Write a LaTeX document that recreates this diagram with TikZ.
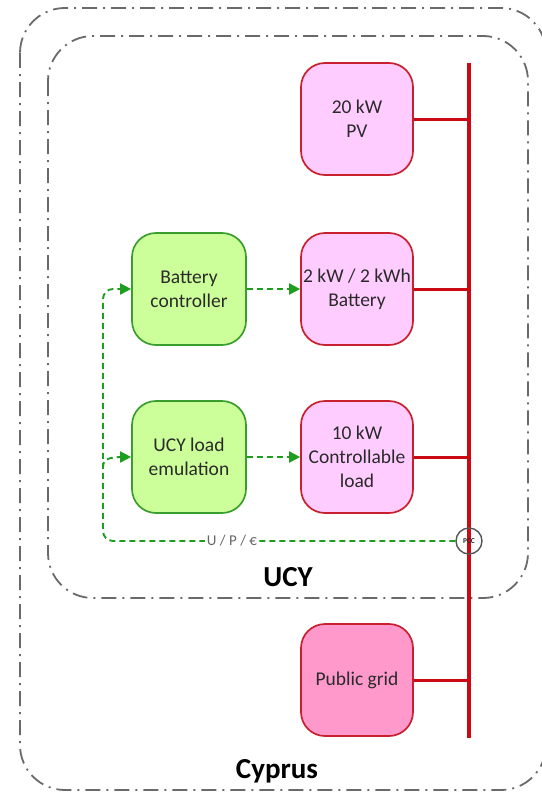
\documentclass[tikz,border=0pt]{standalone}
\usepackage{fontspec}
\setmainfont{Carlito}
\usetikzlibrary{arrows.meta}
\definecolor{pinkfill}{HTML}{FFCCFF}
\definecolor{gridfill}{HTML}{FF99CC}
\definecolor{boxred}{HTML}{C8202E}
\definecolor{busred}{HTML}{CC0A14}
\definecolor{greenfill}{HTML}{CCFF99}
\definecolor{greenline}{HTML}{3A9E2E}
\definecolor{fbgreen}{HTML}{1E9E1E}
\definecolor{framegray}{HTML}{6A6A6A}
\definecolor{txtgray}{HTML}{2A2A2A}
\tikzset{
  unitbox/.style={draw=boxred, line width=1.7pt, fill=pinkfill, rounded corners=24pt,
    minimum width=112pt, minimum height=112pt, align=center, text=txtgray,
    font=\fontsize{19.5}{24}\selectfont, inner sep=0pt},
  ctrlbox/.style={unitbox, draw=greenline, fill=greenfill},
  frame/.style={draw=framegray, line width=1.8pt, rounded corners=45pt,
    dash pattern=on 15pt off 6pt on 2pt off 6pt},
  busline/.style={draw=busred, line width=3.4pt},
  feed/.style={draw=busred, line width=3pt},
  fb/.style={draw=fbgreen, line width=1.9pt, dash pattern=on 6pt off 4pt},
  fbarrow/.style={fb, -{Triangle[length=11pt,width=11pt]}, shorten >=0pt},
  biglabel/.style={font=\bfseries\fontsize{29}{32}\selectfont, text=black}
}
\begin{document}
\begin{tikzpicture}[x=1pt,y=-1pt]
\useasboundingbox (0,0) rectangle (541,792);
% frames
\draw[frame] (20,8) rectangle (546,790);
\draw[frame] (48,36) rectangle (528,598);
\node[biglabel] (ucylabel) at (288,577) {UCY};
\node[biglabel] (cylabel) at (277,771) {Cyprus};
% bus
\coordinate (bustop) at (469,63);
\coordinate (busbot) at (469,738);
\draw[busline] (bustop) -- (busbot);
% units
\node[unitbox] (pv) at (357,119) {20 kW\\PV};
\node[unitbox] (bat) at (357,289) {2 kW / 2 kWh\\Battery};
\node[unitbox] (load) at (357,457) {10 kW\\Controllable\\load};
\node[unitbox, fill=gridfill] (grid) at (357,680) {Public grid};
\node[ctrlbox, minimum width=114pt] (bc) at (189,289) {Battery\\controller};
\node[ctrlbox, minimum width=114pt] (lem) at (189,457) {UCY load\\emulation};
\foreach \n in {pv,bat,load,grid}{
  \draw[feed] (\n.east) -- (\n.east -| bustop);
}
% PCC
\node[draw=txtgray!80, line width=1.4pt, circle, minimum size=26pt, inner sep=0pt,
  font=\bfseries\fontsize{7.5}{7.5}\selectfont, text=txtgray] (pcc) at (469,541) {PCC};
% control arrows
\draw[fbarrow] (bc.east) -- (bat.west);
\draw[fbarrow] (lem.east) -- (load.west);
% feedback
\coordinate (fbcorner) at (103,541);
\coordinate (fbbranch) at (103,468);
\draw[fb, rounded corners=10pt] (pcc.west) -- (fbcorner) -- (fbcorner |- bc.west) -- ([xshift=-7pt]bc.west);
\draw[fbarrow] ([xshift=-8pt]bc.west) -- (bc.west);
\draw[fb] (fbbranch) .. controls (103,460) and (106,457) .. ([xshift=-7pt]lem.west);
\draw[fbarrow] ([xshift=-8pt]lem.west) -- (lem.west);
\node[fill=white, inner sep=1.5pt, text=black!60, font=\fontsize{15}{15}\selectfont] (upe) at (232,541) {U / P / €};
\end{tikzpicture}
\end{document}
